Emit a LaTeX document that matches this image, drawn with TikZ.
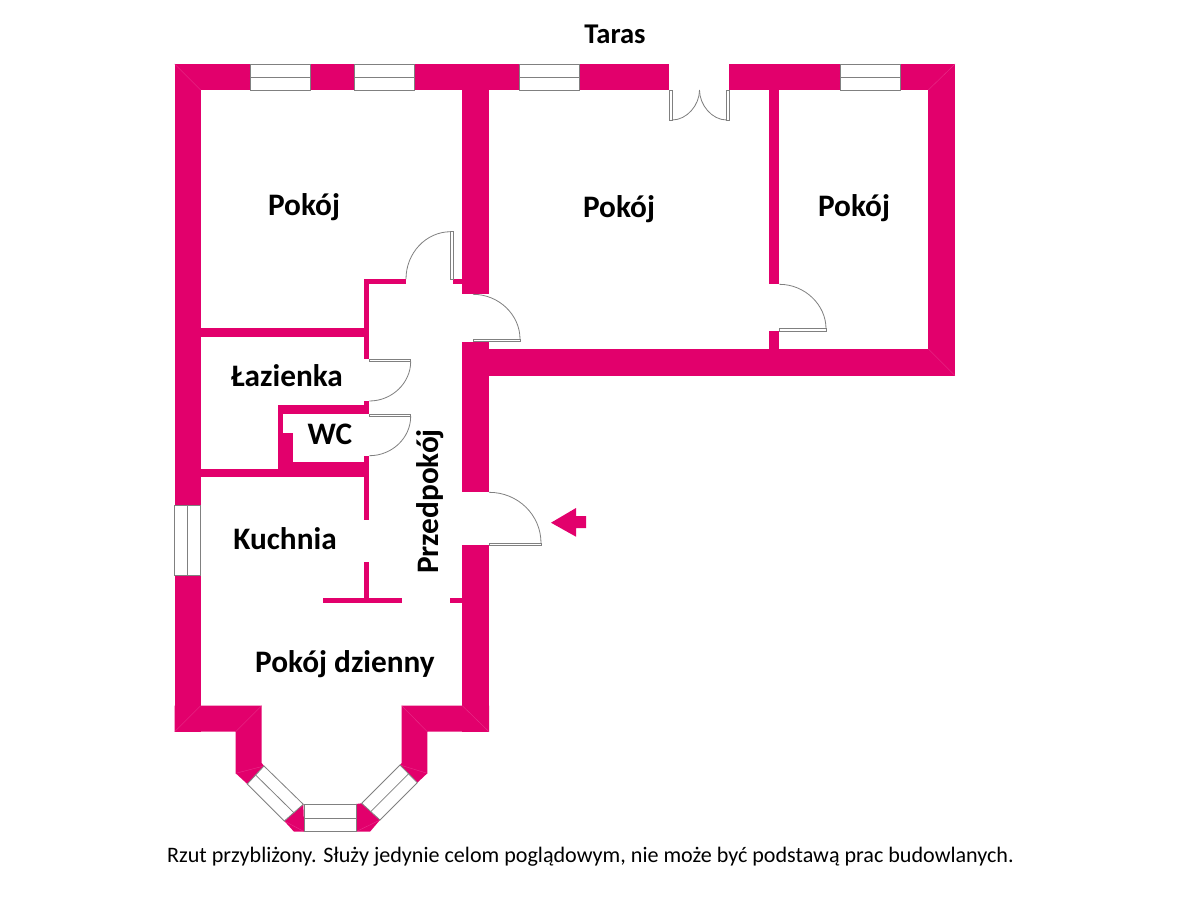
\documentclass[tikz,border=0pt]{standalone}
\usepackage{fontspec}
\setmainfont{Carlito}
\definecolor{wallc}{HTML}{E2006C}
\definecolor{seamc}{HTML}{E8308A}
\definecolor{linec}{HTML}{808080}
\tikzset{
  x=1pt,y=-1pt,
  wall/.style={fill=wallc,draw=none},
  seam/.style={draw=seamc,line width=0.4pt},
  glass/.style={draw=linec,line width=0.8pt,fill=white},
  pane/.style={draw=linec,line width=0.8pt},
  swing/.style={draw=linec,line width=0.8pt},
  leaf/.style={draw=linec,line width=0.7pt,fill=white},
  room/.style={font=\fontsize{31.3}{34}\selectfont\bfseries,text=black,inner sep=0pt},
  note/.style={font=\fontsize{22.1}{26}\selectfont,text=black,inner sep=0pt}
}
\begin{document}
\begin{tikzpicture}
\useasboundingbox[fill=white] (0,0) rectangle (1200,900);
% top wall
\fill[wall] (174.7,64) rectangle (250,90);
\fill[wall] (310,64) rectangle (354.3,90);
\fill[wall] (414.3,64) rectangle (519,90);
\fill[wall] (579,64) rectangle (669.3,90);
\fill[wall] (729.3,64) rectangle (840,90);
\fill[wall] (900,64) rectangle (955,90);
% left wall
\fill[wall] (174.7,64) rectangle (200.7,505);
\fill[wall] (174.7,575) rectangle (200.7,731.7);
% right part
\fill[wall] (928.3,64) rectangle (955,375.7);
\fill[wall] (462.3,349) rectangle (955,375.7);
\fill[wall] (769,90) rectangle (779.3,284.3);
\fill[wall] (769,331) rectangle (779.3,349);
% central wall
\fill[wall] (462.3,90) rectangle (489,294.3);
\fill[wall] (462.3,341.7) rectangle (489,492.3);
\fill[wall] (462.3,545) rectangle (489,731.7);
% inner thin walls
\fill[wall] (364.3,279) rectangle (406,284.3);
\fill[wall] (452.7,279) rectangle (462.3,284.3);
\fill[wall] (364.3,279) rectangle (369.3,359.3);
\fill[wall] (200.7,328.3) rectangle (364.3,336.7);
\fill[wall] (364.3,401) rectangle (369.3,414);
\fill[wall] (277.7,405) rectangle (369.3,414);
\fill[wall] (277.7,405) rectangle (283.3,470);
\fill[wall] (283.3,432.7) rectangle (293.3,470);
\fill[wall] (277.7,461.7) rectangle (369.3,477.3);
\fill[wall] (200.7,469.3) rectangle (369.3,477.3);
\fill[wall] (364.3,456) rectangle (369.3,520);
\fill[wall] (364.3,562.3) rectangle (369.3,600);
\fill[wall] (322.7,597.7) rectangle (401.7,603.3);
\fill[wall] (450,597.7) rectangle (462.3,603.3);
% bay
\fill[wall] (174.7,705.7) -- (261.7,705.7) -- (261.7,763) -- (264,766) -- (247.3,784) -- (235.7,773.3) -- (235.7,731.7) -- (174.7,731.7) -- cycle;
\fill[wall] (401.7,705.7) -- (489,705.7) -- (489,731.7) -- (427.3,731.7) -- (427.3,773.3) -- (417.3,782.7) -- (400,765) -- (401.7,763) -- cycle;
\fill[wall] (303.3,804.3) -- (304.3,831.7) -- (294,831.7) -- (284.3,821) -- cycle;
\fill[wall] (356,804) -- (361.7,803.3) -- (380,820) -- (370,831.7) -- (356,831.7) -- cycle;
% corner seams
\draw[seam] (174.7,64) -- (200.7,90);
\draw[seam] (955,64) -- (928.3,90);
\draw[seam] (955,375.7) -- (928.3,349);
\draw[seam] (174.7,731.7) -- (200.7,705.7);
\draw[seam] (235.7,731.7) -- (261.7,705.7);
\draw[seam] (489,731.7) -- (462.3,705.7);
\draw[seam] (427.3,731.7) -- (401.7,705.7);
\draw[seam] (235.7,773.3) -- (264,766);
\draw[seam] (427.3,773.3) -- (400,765);
\draw[seam] (304.3,831.7) -- (284.3,821);
\draw[seam] (356,831.7) -- (380,820);
% windows top
\foreach \xa/\xb in {250/310,354.3/414.3,519/579,840/900}{
  \draw[glass] (\xa,64) rectangle (\xb,90);
  \draw[pane] (\xa,77) -- (\xb,77);
}
% window left
\draw[glass] (174.7,505) rectangle (200.7,575);
\draw[pane] (187.7,505) -- (187.7,575);
% bay windows
\draw[glass] (264,766) -- (247.3,784) -- (284.3,821) -- (303.3,804.3) -- cycle;
\draw[pane] (255.6,775) -- (293.8,812.6);
\draw[glass] (304,804.3) rectangle (356,831.7);
\draw[pane] (304,818) -- (356,818);
\draw[glass] (361.7,803.3) -- (380,820) -- (417.3,782.7) -- (400,765) -- cycle;
\draw[pane] (370.8,811.6) -- (408.6,773.8);
% balcony double door
\draw[leaf] (669.3,90) rectangle (672,120);
\draw[leaf] (726.6,90) rectangle (729.3,120);
\draw[swing] (672,120) .. controls (687,120) and (699.5,105) .. (699.5,90);
\draw[swing] (726.6,120) .. controls (712,120) and (699.5,105) .. (699.5,90);
% door to room 1
\draw[leaf] (450.7,231.7) rectangle (453,279);
\draw[swing] (450.7,231.7) .. controls (426,231.7) and (406,253) .. (406,279);
% door to middle room
\draw[leaf] (473,339) rectangle (520,341.4);
\draw[swing] (473,294.3) .. controls (499,294.3) and (520,315) .. (520,339);
% door to right room
\draw[leaf] (779.3,328.6) rectangle (826,331);
\draw[swing] (779.3,284.3) .. controls (805,284.3) and (826,305) .. (826,328.6);
% bathroom door
\draw[leaf] (369.3,359.3) rectangle (410.7,361.5);
\draw[swing] (410.7,361.5) .. controls (410.7,383) and (392,401) .. (369.3,401);
% WC door
\draw[leaf] (369.3,414) rectangle (410.7,416.2);
\draw[swing] (410.7,416.2) .. controls (410.7,438) and (392,455.7) .. (369.3,455.7);
% entrance door
\draw[leaf] (489,543) rectangle (541,545.4);
\draw[swing] (489,492.3) .. controls (518,492.3) and (541,515) .. (541,543);
% entry arrow
\fill[wall] (551,522.7) -- (576,508) -- (576,516) -- (586,516) -- (586,528) -- (576,528) -- (576,536.7) -- cycle;
% labels
\node[font=\fontsize{28.6}{31}\selectfont\bfseries,inner sep=0pt] (taras) at (615,34) {Taras};
\node[room] (r1) at (304,207) {Pokój};
\node[room] (r2) at (619,209) {Pokój};
\node[room] (r3) at (854,208) {Pokój};
\node[room] (laz) at (287,376) {Łazienka};
\node[room] (wc) at (330,434) {WC};
\node[room] (kuch) at (285,539) {Kuchnia};
\node[room,rotate=90] (przed) at (430,501.5) {Przedpokój};
\node[room] (dz) at (345,664) {Pokój dzienny};
\node[note] (foot) at (590.5,857) {Rzut przybliżony. Służy jedynie celom poglądowym, nie może być podstawą prac budowlanych.};
\end{tikzpicture}
\end{document}
